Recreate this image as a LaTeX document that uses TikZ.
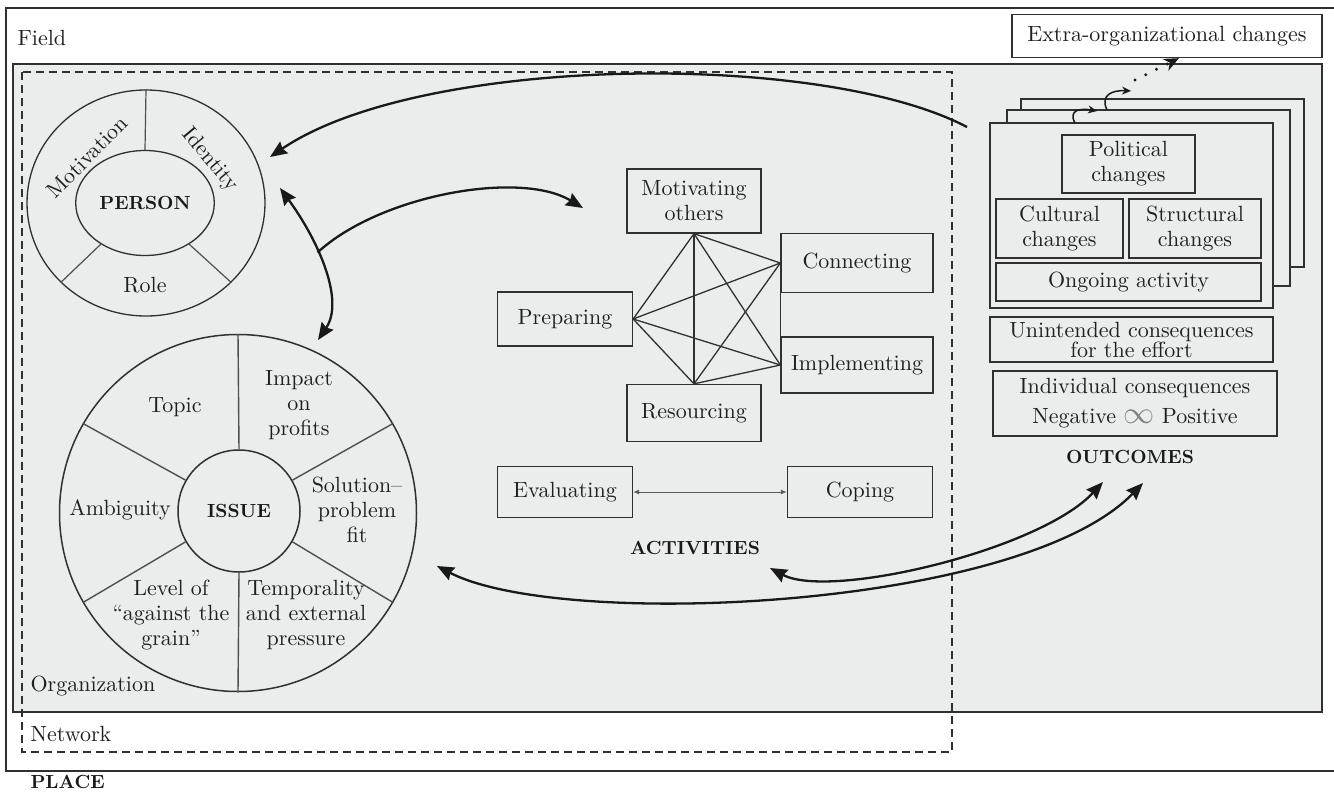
\documentclass[tikz,border=0pt]{standalone}
\usepackage{fontspec}
\setmainfont{lmroman10-regular}[Extension=.otf, BoldFont=lmroman10-bold, ItalicFont=lmroman10-italic]
\usetikzlibrary{arrows.meta,shapes.geometric}

\definecolor{orggray}{HTML}{EBECEC}
\definecolor{linegray}{HTML}{303030}

\tikzset{
  txt/.style={font=\fontsize{22}{25}\selectfont, text=black!88},
  head/.style={font=\fontsize{19}{22}\selectfont\bfseries, text=black!90},
  actbox/.style={txt, draw=linegray, line width=1.3pt, fill=orggray, inner sep=0pt, align=center},
  spoke/.style={draw=linegray!85, line width=1.2pt},
  bigarrow/.style={draw=black!90, line width=2.3pt, -{Stealth[length=17pt,width=14pt,inset=2pt]}},
  dblarrow/.style={bigarrow, {Stealth[length=17pt,width=14pt,inset=2pt]}-{Stealth[length=17pt,width=14pt,inset=2pt]}},
  hook/.style={draw=black!90, line width=1.5pt, -{Stealth[length=9pt,width=8pt]}}
}

\begin{document}
\begin{tikzpicture}[x=1pt,y=-1pt]
\useasboundingbox (0,0) rectangle (1334,793);

% field, organization and network
\draw [linegray, line width=1.5pt] (1334,8) -- (6,8) -- (6,771) -- (1334,771);
\draw [linegray, line width=1.5pt, fill=orggray] (13,64) rectangle (1322,712);
\draw [linegray, line width=1.2pt, dash pattern=on 8pt off 5pt] (22,72) rectangle (952,752);
\node [txt, anchor=west] (field) at (14,38) {Field};
\node [txt, anchor=west] (org) at (27,686) {Organization};
\node [txt, anchor=west] (net) at (27,734) {Network};
\node [head, anchor=west] (place) at (27,782) {PLACE};
\node [actbox, fill=white, minimum width=310pt, minimum height=43pt] (extra) at (1167,36) {Extra-organizational changes};

% person
\node [draw=linegray, ellipse, line width=1.3pt, minimum width=238pt, minimum height=226pt] (pout) at (146,203) {};
\node [draw=linegray, ellipse, line width=1.3pt, minimum width=115pt, minimum height=105pt, head] (pin) at (145,203) {PERSON};
\foreach \a in {90,-137,-43}
  \draw [spoke] (pin.\a) -- (pout.\a);
\node [txt, rotate=45] (motivation) at (87,157) {Motivation};
\node [txt, rotate=-50] (identity) at (210,160) {Identity};
\node [txt] (role) at (145,285) {Role};

% issue
\node [draw=linegray, circle, line width=1.5pt, minimum size=357pt] (iout) at (238,513) {};
\node [draw=linegray, circle, line width=1.5pt, minimum size=122pt, head] (iin) at (239,511) {ISSUE};
\foreach \a in {90,30,-30,-90,-150,150}
  \draw [spoke, line width=1.4pt] (iin.\a) -- (iout.\a);
\node [txt] (topic) at (175,407) {Topic};
\node [txt, align=center] (impact) at (299,405) {Impact\\on\\profits};
\node [txt] (ambig) at (120,510) {Ambiguity};
\node [txt, align=center] (fit) at (357,510) {Solution--\\problem\\fit};
\node [txt, align=center] (grain) at (171,615) {Level of\\``against the\\grain''};
\node [txt, align=center] (tempo) at (306,615) {Temporality\\and external\\pressure};

% activities
\node [actbox, minimum width=134pt, minimum height=64pt] (motiv) at (694,201) {Motivating\\others};
\node [actbox, minimum width=152pt, minimum height=59pt] (conn) at (857,263) {Connecting};
\node [actbox, minimum width=135pt, minimum height=54pt] (prep) at (565,319) {Preparing};
\node [actbox, minimum width=152pt, minimum height=56pt] (impl) at (857,365) {Implementing};
\node [actbox, minimum width=134pt, minimum height=57pt] (resrc) at (694,413) {Resourcing};
\foreach \s/\t in {prep.east/motiv.south, prep.east/conn.west, prep.east/impl.west, prep.east/resrc.north,
                   motiv.south/conn.west, motiv.south/impl.west, motiv.south/resrc.north,
                   conn.west/impl.west, conn.west/resrc.north, impl.west/resrc.north}
  \draw [linegray, line width=1.3pt] (\s) -- (\t);
\node [actbox, minimum width=135pt, minimum height=51pt] (eval) at (565,492) {Evaluating};
\node [actbox, minimum width=145pt, minimum height=51pt] (cope) at (860,492) {Coping};
\draw [black!65, line width=1pt, {Latex[length=6pt,width=5pt]}-{Latex[length=6pt,width=5pt]}] (eval) -- (cope);
\node [head] (activities) at (695,548) {ACTIVITIES};

% outcomes
\node [actbox, minimum width=283pt, minimum height=168pt] (page3) at (1162.5,183) {};
\node [actbox, minimum width=283pt, minimum height=176pt] (page2) at (1148.5,198) {};
\node [actbox, minimum width=283pt, minimum height=185pt] (page1) at (1131.5,215.5) {};
\node [actbox, minimum width=133pt, minimum height=58pt] (polit) at (1128.5,164) {Political\\changes};
\node [actbox, minimum width=127pt, minimum height=59pt] (cult) at (1059.5,228.5) {Cultural\\changes};
\node [actbox, minimum width=132pt, minimum height=59pt] (struc) at (1195,228.5) {Structural\\changes};
\node [actbox, minimum width=265pt, minimum height=38pt] (ongo) at (1128.5,282) {Ongoing activity};
\node [actbox, minimum width=283pt, minimum height=45pt, font=\fontsize{22}{20}\selectfont] (unint) at (1131.5,339.5) {Unintended consequences\\for the effort};
\node [actbox, minimum width=284pt, minimum height=65pt, font=\fontsize{22}{30}\selectfont] (indiv) at (1135,403.5)
  {Individual consequences\\Negative \textcolor{gray}{\scalebox{1.5}{$\infty$}} Positive};
\node [head] (outcomes) at (1130,457) {OUTCOMES};

% spreading of changes
\coordinate (hook1) at (1075,123);
\coordinate (hook2) at (1107,110);
\coordinate (dots) at (1135,80);
\draw [hook] (hook1) .. controls (1068,110) and (1080,108) .. (1097,111);
\draw [hook] (hook2) .. controls (1100,95) and (1112,90) .. (1131,91);
\draw [black!90, line width=3.2pt, line cap=round, dash pattern=on 0pt off 12pt,
       -{Stealth[length=15pt,width=13pt]}] (dots) -- (extra.south -| 1179,0);

% feedback arrows
\coordinate (pagesrc) at (967,127);
\coordinate (topers) at (270,157);
\coordinate (persup) at (280,188);
\coordinate (issuetop) at (318,340);
\coordinate (toact) at (583,208);
\coordinate (actbot) at (770,568);
\coordinate (issuebot) at (437,566);
\coordinate (out1) at (1103,482);
\coordinate (out2) at (1143,483);
\draw [bigarrow] (pagesrc) .. controls (820,50) and (420,55) .. (topers);
\draw [dblarrow] (persup) .. controls (318,240) and (345,300) .. coordinate[pos=0.4] (branch) (issuetop);
\draw [bigarrow] (branch) .. controls (380,195) and (520,170) .. (toact);
\draw [dblarrow] (actbot) .. controls (830,600) and (1040,550) .. (out1);
\draw [dblarrow] (issuebot) .. controls (560,630) and (1020,610) .. (out2);

\end{tikzpicture}
\end{document}
